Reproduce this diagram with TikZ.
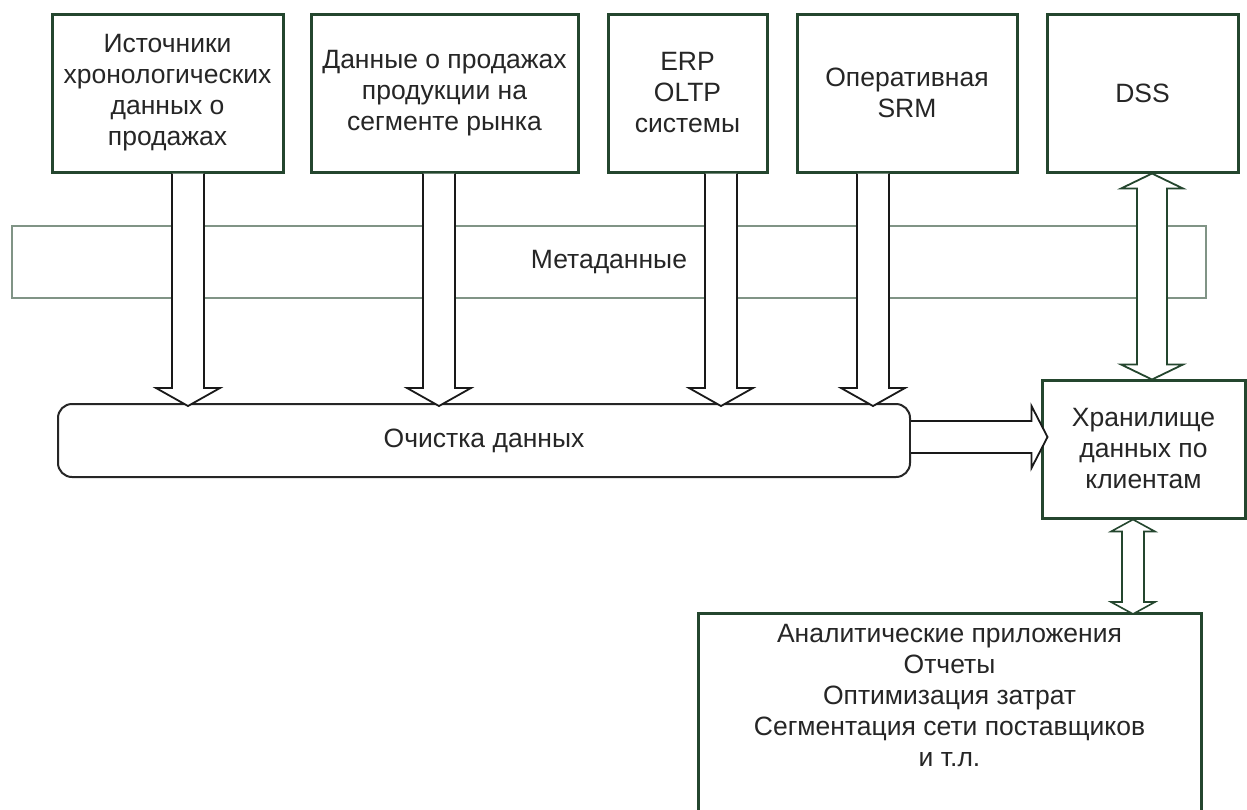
\documentclass[tikz,border=0pt]{standalone}
\usepackage{fontspec}
\setmainfont{Liberation Sans}
\usetikzlibrary{calc}
\definecolor{boxgreen}{RGB}{36,70,46}
\definecolor{bandgreen}{RGB}{128,148,134}
\definecolor{txtgray}{RGB}{38,38,38}
\tikzset{
  txtfont/.style={font=\fontsize{26.5}{31}\selectfont, text=txtgray},
  srcbox/.style={draw=boxgreen, line width=3pt, fill=white, align=center, txtfont, inner sep=2pt},
  bandbox/.style={draw=bandgreen, line width=1.5pt, fill=white, txtfont, inner sep=0pt},
  cleanbox/.style={draw=black!85, line width=2pt, fill=white, rounded corners=14pt, txtfont, inner sep=0pt},
  arr/.style={draw=black!90, line width=1.8pt, fill=white, line join=miter},
  arrdown/.style={to path={let \p1=(\tikztostart), \p2=(\tikztotarget) in
     (\x1-16pt,\y1) -- (\x1-16pt,\y2+18pt) -- (\x1-32pt,\y2+18pt) -- (\x1,\y2)
     -- (\x1+32pt,\y2+18pt) -- (\x1+16pt,\y2+18pt) -- (\x1+16pt,\y1)}},
  arrright/.style={to path={let \p1=(\tikztostart), \p2=(\tikztotarget) in
     (\x1,\y1+16pt) -- (\x2-16pt,\y1+16pt) -- (\x2-16pt,\y1+31pt) -- (\x2,\y1)
     -- (\x2-16pt,\y1-31pt) -- (\x2-16pt,\y1-16pt) -- (\x1,\y1-16pt)}},
  arrdblbig/.style={to path={let \p1=(\tikztostart), \p2=(\tikztotarget) in
     (\x1,\y1) -- (\x1-31pt,\y1-15pt) -- (\x1-15pt,\y1-15pt) -- (\x1-15pt,\y2+15pt)
     -- (\x1-31pt,\y2+15pt) -- (\x1,\y2) -- (\x1+31pt,\y2+15pt) -- (\x1+15pt,\y2+15pt)
     -- (\x1+15pt,\y1-15pt) -- (\x1+31pt,\y1-15pt) -- cycle}},
  arrdblsmall/.style={to path={let \p1=(\tikztostart), \p2=(\tikztotarget) in
     (\x1,\y1) -- (\x1-22pt,\y1-12pt) -- (\x1-11pt,\y1-12pt) -- (\x1-11pt,\y2+12pt)
     -- (\x1-22pt,\y2+12pt) -- (\x1,\y2) -- (\x1+22pt,\y2+12pt) -- (\x1+11pt,\y2+12pt)
     -- (\x1+11pt,\y1-12pt) -- (\x1+22pt,\y1-12pt) -- cycle}},
}
\begin{document}
\begin{tikzpicture}[x=1pt,y=-1pt]
\useasboundingbox (0,0) rectangle (1247,809);
\clip (0,0) rectangle (1247,809);
\fill[white] (0,0) rectangle (1247,809);

% metadata band
\node[bandbox, minimum width=1194pt, minimum height=72pt] (meta) at (609,262) {Метаданные};

% top sources
\node[srcbox, minimum width=231pt, minimum height=158pt] (b1) at (167.5,93)
  {Источники\\хронологических\\данных о\\продажах};
\node[srcbox, minimum width=267pt, minimum height=158pt] (b2) at (444.5,93)
  {Данные о продажах\\продукции на\\сегменте рынка};
\node[srcbox, minimum width=159pt, minimum height=158pt] (b3) at (687.5,93)
  {ERP\\OLTP\\системы};
\node[srcbox, minimum width=220pt, minimum height=158pt] (b4) at (907,93)
  {Оперативная\\SRM};
\node[srcbox, minimum width=191pt, minimum height=158pt] (dss) at (1142.5,93)
  {DSS};

% cleaning, storage, applications
\node[cleanbox, minimum width=852pt, minimum height=73pt] (clean) at (484,440.5) {Очистка данных};
\node[srcbox, minimum width=203pt, minimum height=138pt] (store) at (1143.5,449)
  {Хранилище\\данных по\\клиентам};
\node[srcbox, minimum width=503pt, minimum height=230pt, anchor=north,
  label={[txtfont, align=center, anchor=north, inner sep=3pt, yshift=-9pt]north:{Аналитические приложения\\Отчеты\\Оптимизация затрат\\Сегментация сети поставщиков\\и т.л.}}]
  (apps) at (949.5,612) {};

% arrow end points
\coordinate (s1) at ([xshift=20.5pt]b1.south);
\coordinate (e1) at ($(s1 |- clean.north)+(0,3)$);
\coordinate (s2) at ([xshift=-5.5pt]b2.south);
\coordinate (e2) at ($(s2 |- clean.north)+(0,3)$);
\coordinate (s3) at ([xshift=33.5pt]b3.south);
\coordinate (e3) at ($(s3 |- clean.north)+(0,3)$);
\coordinate (s4) at ([xshift=-34pt]b4.south);
\coordinate (e4) at ($(s4 |- clean.north)+(0,3)$);
\coordinate (sr) at ($(clean.east)+(0,-3.5)$);
\coordinate (er) at ($(store.west |- sr)+(7,0)$);
\coordinate (sd) at ([xshift=9.5pt]dss.south);
\coordinate (ed) at ($(sd |- store.north)+(0,1)$);
\coordinate (sa) at ([xshift=-10.5pt]store.south);
\coordinate (ea) at ($(sa |- apps.north)+(0,2)$);

% arrows
\draw[arr, arrdown] (s1) to (e1);
\draw[arr, arrdown] (s2) to (e2);
\draw[arr, arrdown] (s3) to (e3);
\draw[arr, arrdown] (s4) to (e4);
\draw[arr, arrright] (sr) to (er);
\draw[arr, draw=boxgreen, arrdblbig] (sd) to (ed);
\draw[arr, draw=boxgreen, line width=1.6pt, arrdblsmall] (sa) to (ea);
\end{tikzpicture}
\end{document}
